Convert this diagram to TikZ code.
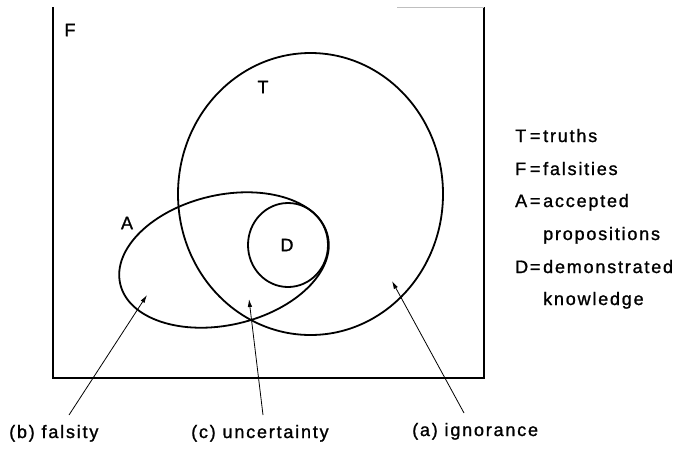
\documentclass[tikz,border=0pt]{standalone}
\usepackage{fontspec}
\setmainfont{Liberation Sans}[LetterSpace=10,FakeBold=1.2]
\usetikzlibrary{arrows.meta}
\begin{document}
\begin{tikzpicture}[x=1pt,y=-1pt,
  curve/.style={line width=1.8pt},
  frame/.style={line width=1.6pt},
  pointer/.style={line width=0.8pt,-{Latex[length=8pt,width=4.5pt]}},
  lbl/.style={inner sep=0pt,font=\fontsize{18}{20}\selectfont}]
\useasboundingbox (0,0) rectangle (677,448);
% frame (F)
\draw[frame] (53,7) -- (53,378) -- (484,378) -- (484,7);
\draw[line width=0.6pt,black!25] (397,7) -- (484,7);
% T
\draw[curve] (310.5,194) ellipse [x radius=132.5, y radius=141];
% A
\draw[curve,rotate around={13:(224,260)}] (224,260) ellipse [x radius=106.5, y radius=65];
% D
\draw[curve] (288,245) ellipse [x radius=40, y radius=42];
% region labels
\node[lbl] (F) at (70,30) {F};
\node[lbl] (T) at (263,87) {T};
\node[lbl] (A) at (127,223) {A};
\node[lbl] (D) at (287,245) {D};
% legend
\node[lbl,anchor=base west] (lT) at (515,142) {\makebox[16pt][l]{T}\makebox[8pt][c]{=}\hspace{4pt}truths};
\node[lbl,anchor=base west] (lF) at (515,175) {\makebox[16pt][l]{F}\makebox[8pt][c]{=}\hspace{4pt}falsities};
\node[lbl,anchor=base west] (lA) at (515,207) {\makebox[16pt][l]{A}\makebox[8pt][c]{=}\hspace{4pt}accepted};
\node[lbl,anchor=base west] (lA2) at (543,240) {propositions};
\node[lbl,anchor=base west] (lD) at (515,273) {\makebox[16pt][l]{D}\makebox[8pt][c]{=}\hspace{4pt}demonstrated};
\node[lbl,anchor=base west] (lD2) at (543,305) {knowledge};
% bottom labels
\node[lbl,anchor=base west] (lb) at (9,438) {(b) falsity};
\node[lbl,anchor=base west] (lc) at (191,438) {(c) uncertainty};
\node[lbl,anchor=base west] (la) at (412,436) {(a) ignorance};
% pointers
\coordinate (bs) at (69,415);
\coordinate (bt) at (147,295);
\coordinate (cs) at (263,415);
\coordinate (ct) at (249,299);
\coordinate (as) at (464,413);
\coordinate (at) at (392,281);
\draw[pointer] (bs) -- (bt);
\draw[pointer] (cs) -- (ct);
\draw[pointer] (as) -- (at);
\end{tikzpicture}
\end{document}
